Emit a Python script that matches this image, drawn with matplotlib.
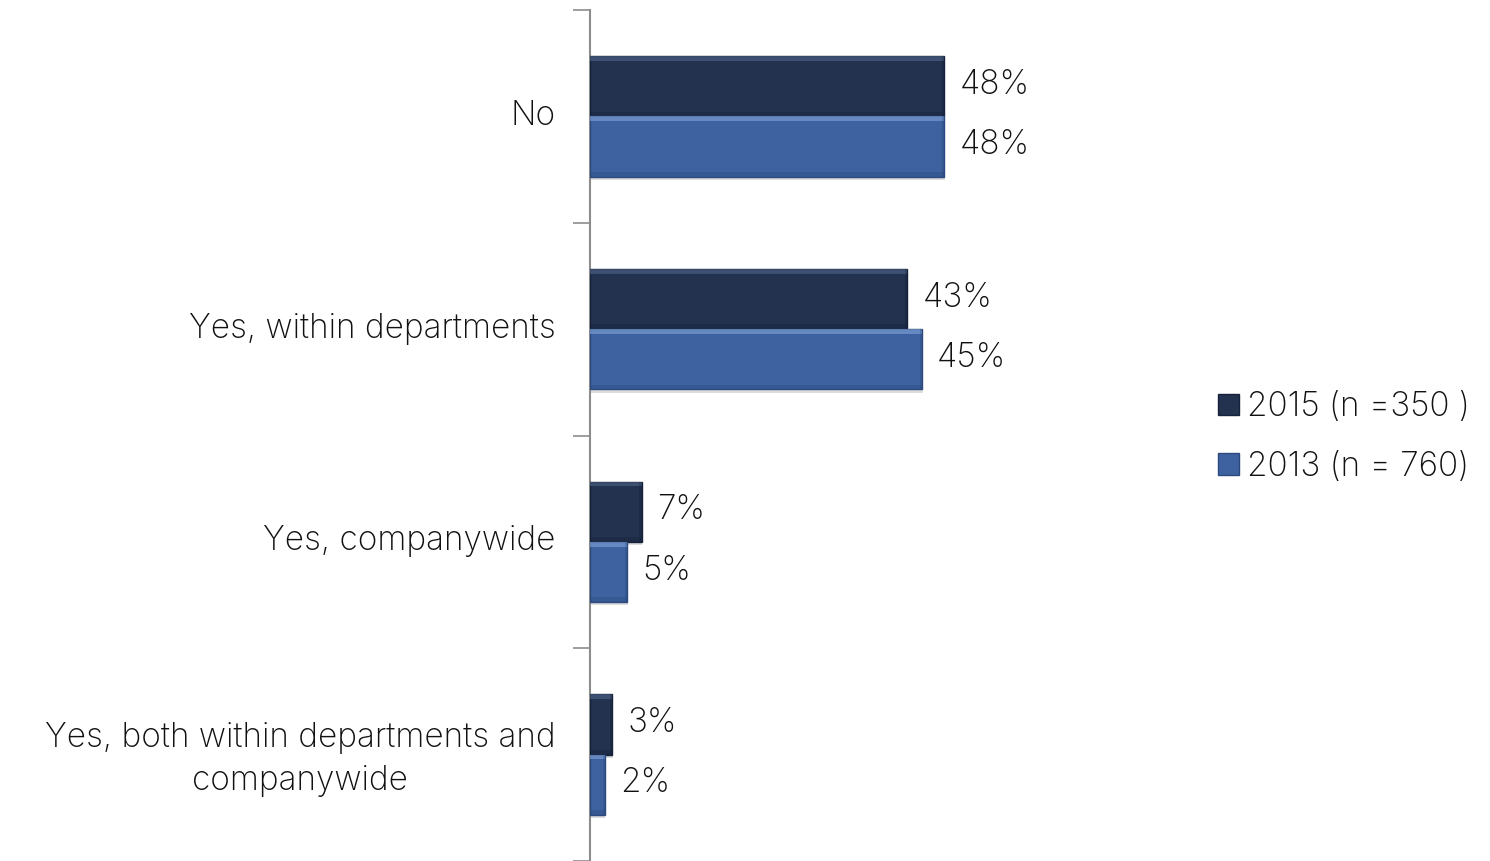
import matplotlib.pyplot as plt
import matplotlib.transforms as mtransforms
from matplotlib.patches import Rectangle, Patch

categories = ['No', 'Yes, within departments', 'Yes, companywide',
              'Yes, both within departments and\ncompanywide']
values_2015 = [48, 43, 7, 3]
values_2013 = [48, 45, 5, 2]
series_names = ['2015 (n =350 )', '2013 (n = 760)']

dark = '#22324f'
light = '#3e62a0'

plt.rcParams['font.family'] = ['Inter', 'DejaVu Sans']
plt.rcParams['font.weight'] = 'light'
fs = 24

fig = plt.figure(figsize=(14.9, 8.61), dpi=100)
ax = fig.add_axes([590 / 1490, 0, 590 / 1490, 1 - 10 / 861])

h = 0.283
y = list(range(len(categories)))
bars_a = ax.barh([i - h / 2 for i in y], values_2015, height=h, color=dark,
                 edgecolor='#16223a', linewidth=1, zorder=3)
bars_b = ax.barh([i + h / 2 for i in y], values_2013, height=h, color=light,
                 edgecolor='#2c4a7e', linewidth=1, zorder=3)


def bevel(bars, hi, lo):
    # light top edge, darker bottom/right edge on each bar
    for p in bars:
        x0, y0, w, hh = p.get_x(), p.get_y(), p.get_width(), p.get_height()
        t = hh * 0.08
        e = min(0.3, w * 0.1)
        ax.add_patch(Rectangle((x0, y0), w, t, color=hi, lw=0, zorder=4, alpha=0.5))
        ax.add_patch(Rectangle((x0, y0 + hh - t), w, t, color=lo, lw=0, zorder=4, alpha=0.25))
        ax.add_patch(Rectangle((x0 + w - e, y0), e, hh, color=lo, lw=0, zorder=4, alpha=0.25))
        # soft shadow below
        ax.add_patch(Rectangle((x0 + 0.1, y0 + hh), w, 0.015, color='#bbbbbb',
                               lw=0, zorder=2, alpha=0.5))


bevel(bars_a, '#5a6f95', '#101a2e')
bevel(bars_b, '#8fb0e4', '#25406e')

for bars, vals in ((bars_a, values_2015), (bars_b, values_2013)):
    for p, v in zip(bars, vals):
        ax.annotate(f'{v}%', (v, p.get_y() + p.get_height() / 2),
                    xytext=(11, 1), textcoords='offset points',
                    ha='left', va='center', fontsize=fs, color='#111111')

ax.set_xlim(0, 80)
ax.set_ylim(len(categories) - 0.5, -0.5)
ax.set_yticks(y)
ax.set_yticklabels(categories, fontsize=fs, color='#111111',
                   multialignment='center', linespacing=1.45)
ax.set_yticks([i - 0.5 for i in range(len(categories) + 1)], minor=True)
ax.tick_params(axis='y', which='major', length=0, pad=25)
ax.tick_params(axis='y', which='minor', length=12, width=1.2, color='#8c8c8c')
ax.set_xticks([])
# nudge category labels up a little
shift = mtransforms.ScaledTranslation(0, 4 / 100, fig.dpi_scale_trans)
for lbl in ax.get_yticklabels():
    lbl.set_transform(lbl.get_transform() + shift)
for s in ('top', 'right', 'bottom'):
    ax.spines[s].set_visible(False)
ax.spines['left'].set_color('#8c8c8c')
ax.spines['left'].set_linewidth(1.5)

handles = [Patch(facecolor=dark, edgecolor='#16223a'),
           Patch(facecolor=light, edgecolor='#2c4a7e')]
fig.legend(handles, series_names, loc='center left', bbox_to_anchor=(1188 / 1490, 1 - 437 / 861),
           frameon=False, fontsize=fs, handlelength=0.62, handleheight=0.62,
           handletextpad=0.25, labelspacing=0.82, labelcolor='#111111')

fig.savefig('out.png', dpi=100)
